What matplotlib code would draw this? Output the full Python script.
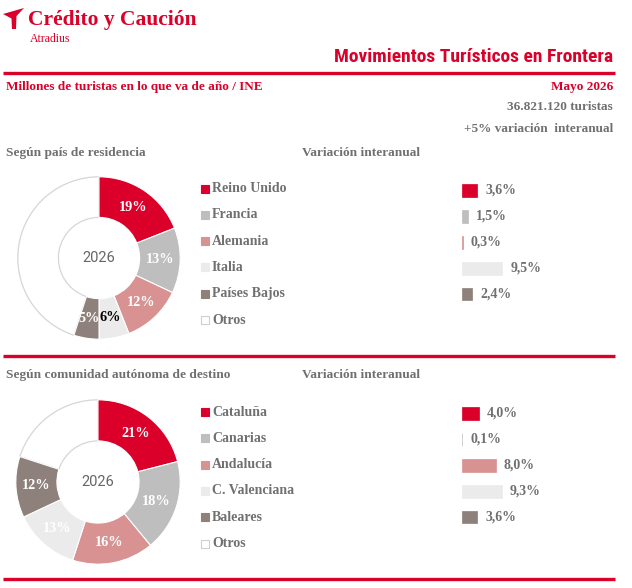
import math
import matplotlib
matplotlib.use("Agg")
import matplotlib.pyplot as plt
from matplotlib import font_manager
from matplotlib.patches import Polygon, Rectangle
from matplotlib.lines import Line2D

# ---------------- data ----------------
pais_labels = ["Reino Unido", "Francia", "Alemania", "Italia", "Países Bajos", "Otros"]
pais_share = [19, 13, 12, 6, 5, 45]
pais_share_text = ["19%", "13%", "12%", "6%", "5%", ""]
pais_var = [3.6, 1.5, 0.3, 9.5, 2.4]
pais_var_text = ["3,6%", "1,5%", "0,3%", "9,5%", "2,4%"]

ccaa_labels = ["Cataluña", "Canarias", "Andalucía", "C. Valenciana", "Baleares", "Otros"]
ccaa_share = [21, 18, 16, 13, 12, 20]
ccaa_share_text = ["21%", "18%", "16%", "13%", "12%", ""]
ccaa_var = [4.0, 0.1, 8.0, 9.3, 3.6]
ccaa_var_text = ["4,0%", "0,1%", "8,0%", "9,3%", "3,6%"]

year_label = "2026"
month_label = "Mayo 2026"
total_text = "36.821.120 turistas"
var_total_text = "+5% variación  interanual"

# ---------------- style ----------------
RED = "#DA0029"
GREY = "#BEBEBE"
PINK = "#D99292"
LIGHT = "#EBEBEB"
BROWN = "#8E807A"
WHITE = "#FFFFFF"
TXT = "#707070"
colors = [RED, GREY, PINK, LIGHT, BROWN, WHITE]
label_colors = ["white", "white", "white", "black", "white", "white"]
label_colors2 = ["white", "white", "white", "white", "white", "white"]

avail = {f.name for f in font_manager.fontManager.ttflist}
SERIF = "Liberation Serif" if "Liberation Serif" in avail else "DejaVu Serif"
NARROW = "Liberation Sans Narrow" if "Liberation Sans Narrow" in avail else (
    "Roboto Condensed" if "Roboto Condensed" in avail else "Liberation Sans")
SANS = "Roboto" if "Roboto" in avail else "DejaVu Sans"

W, H = 632, 588
fig = plt.figure(figsize=(W / 100, H / 100), dpi=100)


def fx(px):
    return px / W


def fy(py):
    return 1 - py / H


def axes_px(x0, y0, w, h):
    return fig.add_axes([fx(x0), fy(y0 + h), w / W, h / H])


# background overlay axes in pixel coordinates
bg = fig.add_axes([0, 0, 1, 1])
bg.set_xlim(0, W)
bg.set_ylim(H, 0)
bg.axis("off")

# logo
bg.add_patch(Polygon([(3, 14), (24, 8), (16.5, 16), (16, 29), (12, 29), (11.5, 18.5)],
                     closed=True, color=RED, lw=0))
bg.text(28, 20, "Crédito y Caución", color=RED, fontsize=15.5, fontweight="bold",
        family=SERIF, va="center", ha="left")
bg.text(30, 38.5, "Atradius", color=RED, fontsize=8.5, family=SERIF, va="center", ha="left")

# title
bg.text(613, 57, "Movimientos Turísticos en Frontera", color=RED, fontsize=14,
        fontweight="bold", family=NARROW, va="center", ha="right")
for yy in (72.5, 355.5, 578.5):
    bg.add_line(Line2D([3, 615], [yy, yy], color=RED, lw=2.4, solid_capstyle="butt"))

bg.text(6, 87, "Millones de turistas en lo que va de año / INE", color=RED, fontsize=9.5,
        fontweight="bold", family=SERIF, va="center", ha="left")
bg.text(613, 87, month_label, color=RED, fontsize=9.5, fontweight="bold", family=SERIF,
        va="center", ha="right")
bg.text(613, 107, total_text, color=TXT, fontsize=9.5, fontweight="bold", family=SERIF,
        va="center", ha="right")
bg.text(613, 129, var_total_text, color=TXT, fontsize=9.5, fontweight="bold", family=SERIF,
        va="center", ha="right")

bg.text(6, 153, "Según país de residencia", color=TXT, fontsize=9.6, fontweight="bold",
        family=SERIF, va="center", ha="left")
bg.text(302, 153, "Variación interanual", color=TXT, fontsize=9.6, fontweight="bold",
        family=SERIF, va="center", ha="left")
bg.text(6, 375, "Según comunidad autónoma de destino", color=TXT, fontsize=9.6,
        fontweight="bold", family=SERIF, va="center", ha="left")
bg.text(302, 375, "Variación interanual", color=TXT, fontsize=9.6, fontweight="bold",
        family=SERIF, va="center", ha="left")


def donut(cx, cy, r, shares, texts, lcolors):
    ax = axes_px(cx - r, cy - r, 2 * r, 2 * r)
    wedges, _ = ax.pie(shares, colors=colors, startangle=90, counterclock=False,
                       radius=1.0, wedgeprops=dict(width=0.5, edgecolor="white", linewidth=0.8))
    wedges[-1].set_edgecolor("#D6D6D6")
    wedges[-1].set_linewidth(0.9)
    wedges[-1].set_zorder(0)
    ax.set_xlim(-1.01, 1.01)
    ax.set_ylim(-1.01, 1.01)
    ax.set_aspect("equal")
    ax.axis("off")
    cum = 0
    total = sum(shares)
    for s, t, c in zip(shares, texts, lcolors):
        mid = cum + s / 2
        cum += s
        if not t:
            continue
        ang = math.radians(90 - mid / total * 360)
        rr = 0.75
        ax.text(rr * math.cos(ang), rr * math.sin(ang), t, color=c, fontsize=10.3,
                fontweight="bold", family=SERIF, ha="center", va="center")
    ax.text(0, 0, year_label, color="#666666", fontsize=10.5, family=SANS,
            ha="center", va="center")


donut(99, 258, 82, pais_share, pais_share_text, label_colors)
donut(98, 482, 83, ccaa_share, ccaa_share_text, label_colors2)


def legend(y0, labels):
    step = 26.3
    for i, (lab, col) in enumerate(zip(labels, colors)):
        yy = y0 + i * step
        ec = "#CFCFCF" if col == WHITE else col
        bg.add_patch(Rectangle((200.5, yy - 4), 8, 8, facecolor=col, edgecolor=ec, lw=0.8))
        bg.text(212, yy, lab, color=TXT, fontsize=10, fontweight="bold", family=SERIF,
                va="center", ha="left")


legend(188.5, pais_labels)
legend(412, ccaa_labels)


def bars(y_first, vals, texts):
    step = 25.9
    n = len(vals)
    scale = 4.28  # px per percent point
    xmax = 40.0
    top = y_first - step / 2
    ax = axes_px(461.7, top, scale * xmax, step * n)
    pos = list(range(n))
    ax.barh(pos, vals, height=12.7 / step, color=colors[:n], edgecolor=colors[:n],
            linewidth=0.5, left=0)
    ax.set_xlim(0, xmax)
    ax.set_ylim(n - 0.5, -0.5)
    ax.axis("off")
    for p, v, t in zip(pos, vals, texts):
        ax.text(v + 8 / scale, p, t, color=TXT, fontsize=10, fontweight="bold",
                family=SERIF, va="center", ha="left", clip_on=False)


bars(190.5, pais_var, pais_var_text)
bars(413.5, ccaa_var, ccaa_var_text)

fig.savefig("out.png", dpi=100)
